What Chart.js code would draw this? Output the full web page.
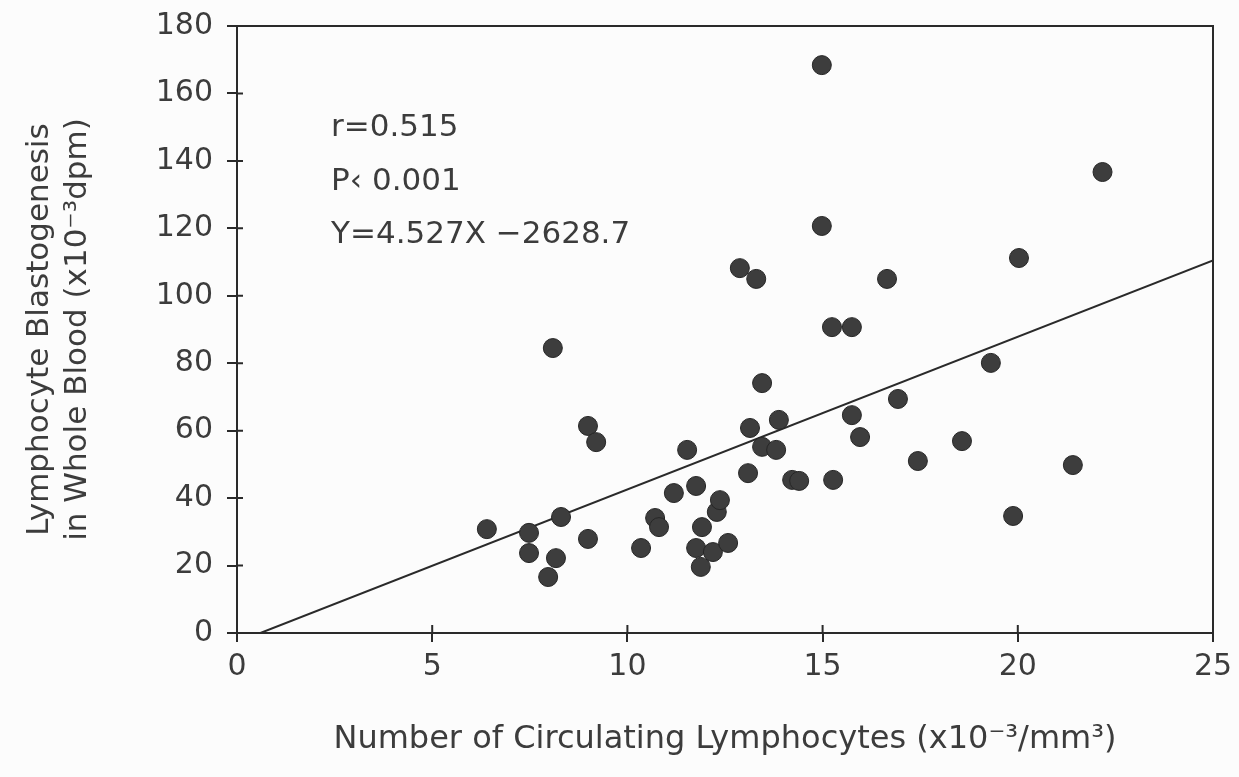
<!DOCTYPE html>
<html>
<head>
<meta charset="utf-8">
<script src="https://cdn.jsdelivr.net/npm/chart.js@4"></script>
<style>
  body { margin: 0; background: #fcfcfc; }
  canvas { display: block; }
</style>
</head>
<body>
<canvas id="lymphoChart" width="1239" height="777"></canvas>
<script>
// circulating lymphocytes (x10^-3/mm^3) vs blastogenesis (x10^-3 dpm)
const lymphX = [6.4, 7.48, 7.48, 7.97, 8.17, 8.09, 8.3, 8.99, 9.2, 8.99,
    10.35, 10.71, 10.81, 11.19, 11.53, 11.76, 11.76, 11.91, 11.88, 12.19,
    12.29, 12.37, 12.58, 12.88, 13.3, 13.14, 13.09, 13.45, 13.45, 13.81,
    13.88, 14.22, 14.4, 14.98, 14.98, 15.24, 15.75, 15.27, 15.75, 15.96,
    16.65, 16.93, 17.44, 18.57, 19.31, 19.88, 20.03, 22.17, 21.41];
const blastY = [30.8, 29.7, 23.7, 16.6, 22.2, 84.5, 34.4, 61.4, 56.6, 27.9,
    25.2, 34.1, 31.4, 41.5, 54.3, 43.6, 25.2, 31.4, 19.6, 24.0,
    35.9, 39.4, 26.7, 108.2, 105.0, 60.8, 47.4, 74.1, 55.2, 54.3,
    63.2, 45.4, 45.1, 168.4, 120.7, 90.7, 90.7, 45.4, 64.6, 58.1,
    105.0, 69.4, 51.0, 56.9, 80.1, 34.7, 111.2, 136.7, 49.8];

// regression line end points as drawn
const fitX = [0.6, 25];
const fitY = [0, 110.5];

const statLines = ["r=0.515", "P\u2039 0.001", "Y=4.527X \u22122628.7"];

const ink = "#2a2a2a";
const textInk = "#3c3c3c";

const framePlugin = {
    id: "frame",
    afterDraw(chart) {
        const { ctx, chartArea: a, scales: { x, y } } = chart;
        ctx.save();
        ctx.strokeStyle = ink;
        ctx.lineWidth = 2;
        ctx.strokeRect(a.left, a.top, a.right - a.left, a.bottom - a.top);
        // inner half of the crossing tick marks
        ctx.beginPath();
        x.ticks.forEach(t => {
            const px = x.getPixelForValue(t.value);
            ctx.moveTo(px, a.bottom);
            ctx.lineTo(px, a.bottom - 8);
        });
        y.ticks.forEach(t => {
            const py = y.getPixelForValue(t.value);
            ctx.moveTo(a.left, py);
            ctx.lineTo(a.left + 6, py);
        });
        ctx.stroke();

        ctx.fillStyle = textInk;
        ctx.font = '31px "DejaVu Sans"';
        ctx.textBaseline = "middle";
        statLines.forEach((s, i) => ctx.fillText(s, a.left + 94, a.top + 102 + i * 53.5));
        ctx.restore();
    }
};

new Chart(document.getElementById("lymphoChart"), {
    type: "scatter",
    data: {
        datasets: [
            {
                data: lymphX.map((v, i) => ({ x: v, y: blastY[i] })),
                pointRadius: 9.5,
                pointBackgroundColor: "#3d3d3d",
                pointBorderColor: "#262626",
                pointBorderWidth: 1,
                order: 1
            },
            {
                data: fitX.map((v, i) => ({ x: v, y: fitY[i] })),
                showLine: true,
                borderColor: ink,
                borderWidth: 2,
                pointRadius: 0,
                order: 2
            }
        ]
    },
    options: {
        responsive: false,
        animation: false,
        layout: { padding: { top: 26, right: 26, bottom: 0, left: 0 } },
        plugins: {
            legend: { display: false },
            tooltip: { enabled: false }
        },
        scales: {
            x: {
                type: "linear",
                min: 0,
                max: 25,
                ticks: { stepSize: 5, color: textInk, font: { family: "DejaVu Sans", size: 30 }, padding: 7 },
                grid: { drawOnChartArea: false, tickLength: 9, color: ink, lineWidth: 2 },
                border: { color: ink, width: 2 },
                title: {
                    display: true,
                    text: "Number of Circulating Lymphocytes (x10\u207B\u00B3/mm\u00B3)",
                    color: textInk,
                    font: { family: "DejaVu Sans", size: 32, lineHeight: 1.2 },
                    padding: { top: 0, bottom: 18 }
                },
                afterFit: s => { s.height = 144; s.paddingLeft = 0; s.paddingRight = 0; }
            },
            y: {
                min: 0,
                max: 180,
                ticks: { stepSize: 20, color: textInk, font: { family: "DejaVu Sans", size: 30 }, padding: 14 },
                grid: { drawOnChartArea: false, tickLength: 10, color: ink, lineWidth: 2 },
                border: { color: ink, width: 2 },
                title: {
                    display: true,
                    text: ["Lymphocyte Blastogenesis", "in Whole Blood (x10\u207B\u00B3dpm)"],
                    color: textInk,
                    font: { family: "DejaVu Sans", size: 31, lineHeight: 1.23 },
                    padding: { top: 21, bottom: 0 }
                },
                afterFit: s => { s.width = 237; s.paddingTop = 0; s.paddingBottom = 0; }
            }
        }
    },
    plugins: [framePlugin]
});
</script>
</body>
</html>
